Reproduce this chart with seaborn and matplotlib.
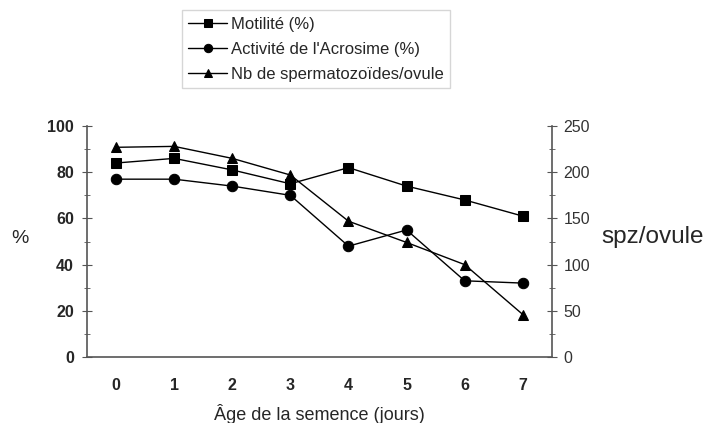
import matplotlib
matplotlib.use("Agg")
import matplotlib.pyplot as plt
from matplotlib.ticker import MultipleLocator
import seaborn as sns
import pandas as pd

jours = [0, 1, 2, 3, 4, 5, 6, 7]
motilite = [84, 86, 81, 75, 82, 74, 68, 61]
acrosome = [77, 77, 74, 70, 48, 55, 33, 32]
spz_ovule = [227, 228, 215, 197, 147, 124, 100, 46]

sns.set_style("ticks")
plt.rcParams['font.family'] = ['Liberation Sans', 'DejaVu Sans']

df = pd.DataFrame({"jours": jours, "mot": motilite, "acr": acrosome, "spz": spz_ovule})

fig = plt.figure(figsize=(7.13, 4.23), dpi=100)
ax = fig.add_axes([0.122, 0.156, 0.652, 0.546])
ax2 = ax.twinx()

sns.lineplot(data=df, x="jours", y="mot", ax=ax, color="black", marker="s",
             markersize=7.5, linewidth=1, markeredgecolor="black", label="Motilité (%)", legend=False)
sns.lineplot(data=df, x="jours", y="acr", ax=ax, color="black", marker="o",
             markersize=7.5, linewidth=1, markeredgecolor="black", label="Activité de l'Acrosime (%)", legend=False)
sns.lineplot(data=df, x="jours", y="spz", ax=ax2, color="black", marker="^",
             markersize=7.5, linewidth=1, markeredgecolor="black", label="Nb de spermatozoïdes/ovule", legend=False)

ax.set_xlim(-0.5, 7.5)
ax.set_ylim(0, 100)
ax2.set_ylim(0, 250)
ax.set_xticks(jours)
ax.yaxis.set_major_locator(MultipleLocator(20))
ax.yaxis.set_minor_locator(MultipleLocator(10))
ax2.yaxis.set_major_locator(MultipleLocator(50))
ax2.yaxis.set_minor_locator(MultipleLocator(25))

axis_col = "#555555"
for a in (ax, ax2):
    a.spines["top"].set_visible(False)
    for s in ("left", "right", "bottom"):
        a.spines[s].set_color(axis_col)
        a.spines[s].set_linewidth(1.2)
ax.spines["right"].set_visible(False)
ax2.spines["left"].set_visible(False)
ax2.spines["bottom"].set_visible(False)

ax.tick_params(axis="x", length=0, pad=15, labelsize=11.5)
ax.tick_params(axis="y", which="major", direction="inout", length=7, color=axis_col, labelsize=11.5, pad=6)
ax.tick_params(axis="y", which="minor", direction="inout", length=4, color=axis_col)
ax2.tick_params(axis="y", which="major", direction="inout", length=7, color=axis_col, labelsize=11.5, pad=5, labelcolor="#333333")
ax2.tick_params(axis="y", which="minor", direction="inout", length=4, color=axis_col)
for lab in ax.get_xticklabels() + ax.get_yticklabels():
    lab.set_fontweight("bold")

ax.set_xlabel("Âge de la semence (jours)", fontsize=13, labelpad=8)
ax.set_ylabel("%", fontsize=14, rotation=0, va="center", ha="center")
ax.yaxis.set_label_coords(-0.145, 0.515)
ax2.set_ylabel("spz/ovule", fontsize=17.5, rotation=0, va="center", ha="left")
ax2.yaxis.set_label_coords(1.107, 0.52)

h1, l1 = ax.get_legend_handles_labels()
h2, l2 = ax2.get_legend_handles_labels()
fig.legend(h1 + h2, l1 + l2, loc="upper left", bbox_to_anchor=(0.255, 0.976),
           fontsize=12, frameon=True, fancybox=False, edgecolor="#cccccc",
           handlelength=2.3, markerscale=0.8, borderpad=0.4, labelspacing=0.6,
           handletextpad=0.25, borderaxespad=0)

fig.savefig("out.png", dpi=100)
